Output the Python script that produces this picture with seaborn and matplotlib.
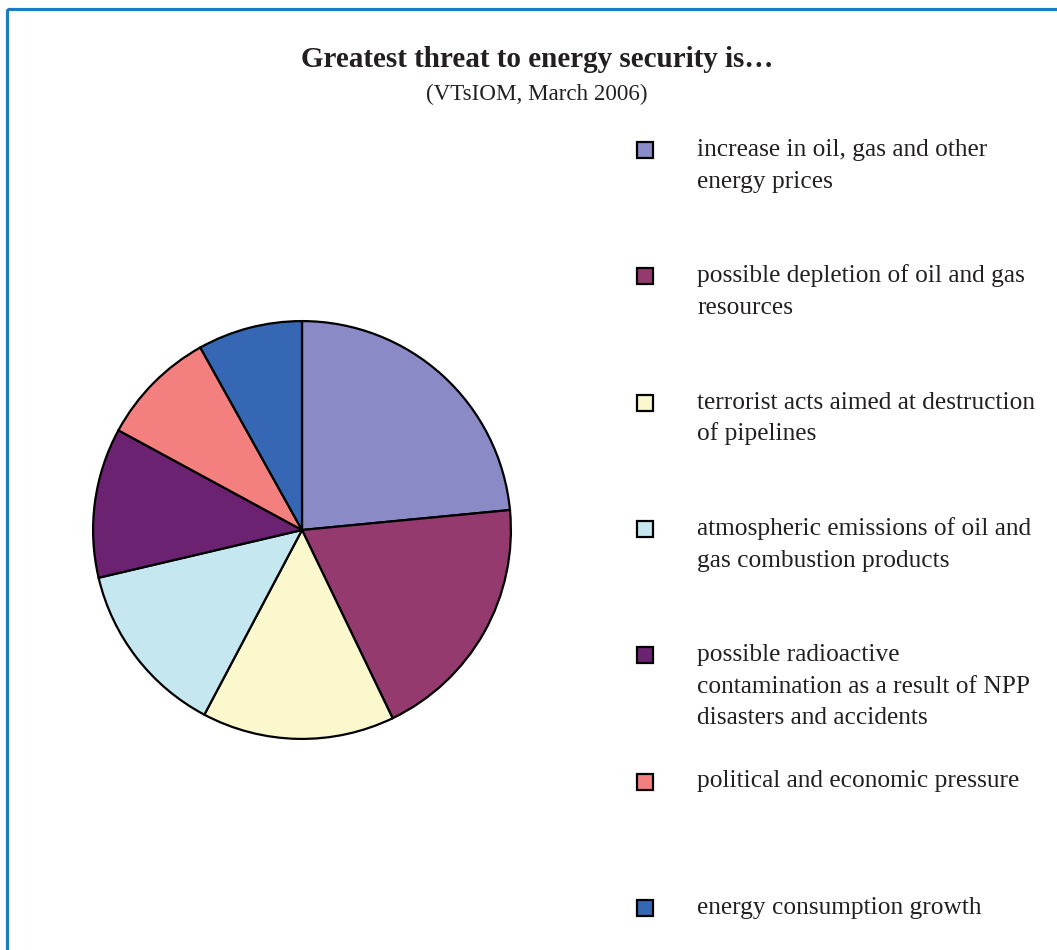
import matplotlib
matplotlib.use("Agg")
import matplotlib.pyplot as plt
import seaborn as sns
from matplotlib.patches import Rectangle

# Survey answers (share of responses, %)
categories = [
    "increase in oil, gas and other\nenergy prices",
    "possible depletion of oil and gas\nresources",
    "terrorist acts aimed at destruction\nof pipelines",
    "atmospheric emissions of oil and\ngas combustion products",
    "possible radioactive\ncontamination as a result of NPP\ndisasters and accidents",
    "political and economic pressure",
    "energy consumption growth",
]
shares = [23.5, 19.4, 14.9, 13.6, 11.6, 9.0, 8.1]
colors = ["#8A8AC6", "#943A6E", "#FBF8CD", "#C5E7F0", "#6B2270", "#F37F7F", "#3667B4"]

title = "Greatest threat to energy security is\u2026"
subtitle = "(VTsIOM, March 2006)"

sns.set_theme(style="white")
plt.rcParams["font.family"] = ["Liberation Serif", "DejaVu Serif"]

W, H = 1057, 950
fig = plt.figure(figsize=(W / 100, H / 100), dpi=100)
fig.patch.set_facecolor("white")

# Overlay in pixel units for frame, titles and legend
ov = fig.add_axes([0, 0, 1, 1])
ov.set_xlim(0, W)
ov.set_ylim(H, 0)
ov.axis("off")

ov.add_patch(Rectangle((7.3, 8.8), W + 50, H + 50, fill=False,
                       edgecolor="#1B7CC0", linewidth=2.3))

ov.text(537, 67, title, fontsize=21, fontweight="bold", color="#231F20",
        ha="center", va="baseline")
ov.text(537, 100, subtitle, fontsize=16.6, color="#231F20",
        ha="center", va="baseline")

palette = sns.color_palette(colors)

# Pie
cx, cy, r = 302, 530, 211
pax = fig.add_axes([(cx - r) / W, (H - cy - r) / H, 2 * r / W, 2 * r / H])
pax.pie(shares, colors=palette, startangle=90, counterclock=False,
        wedgeprops=dict(edgecolor="black", linewidth=1.6))
pax.set_xlim(-1.01, 1.01)
pax.set_ylim(-1.01, 1.01)
pax.set_aspect("equal")
pax.axis("off")

# Legend: square key, then label lines on a fixed leading
step = 126.3
leading = 31.6
sq = 16
for i, (lab, col) in enumerate(zip(categories, palette)):
    yc = 150 + step * i
    ov.add_patch(Rectangle((645 - sq / 2, yc - sq / 2), sq, sq,
                           facecolor=col, edgecolor="black", linewidth=1.6))
    for k, line in enumerate(lab.split("\n")):
        ov.text(697, yc + 6 + k * leading, line, fontsize=18.3,
                color="#231F20", ha="left", va="baseline")

fig.savefig("out.png", dpi=100)
